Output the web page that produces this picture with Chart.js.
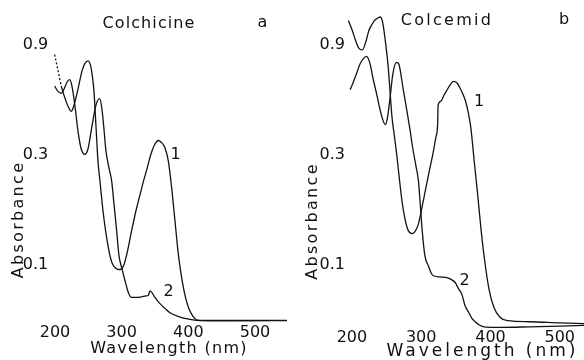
<!DOCTYPE html>
<html>
<head>
<meta charset="utf-8">
<script src="https://cdn.jsdelivr.net/npm/chart.js@4.4.1/dist/chart.umd.min.js"></script>
<style>
  html, body { margin: 0; padding: 0; background: #fff; }
  #wrap { position: relative; width: 584px; height: 360px; }
  .panel { position: absolute; top: 0; width: 292px; height: 360px; }
</style>
</head>
<body>
<div id="wrap">
  <div class="panel" style="left:0"><canvas id="chartA" width="292" height="360"></canvas></div>
  <div class="panel" style="left:292px"><canvas id="chartB" width="292" height="360"></canvas></div>
</div>
<script>
// tick values shared by both panels
const xTicks = [200, 300, 400, 500];
const yTicks = [0.1, 0.3, 0.9];

// panel a - colchicine, curve 1 (before irradiation)
const colchWl1 = [199.5, 204.5, 209.5, 216.5, 221, 224.5, 228.5, 234.5, 240.5, 245, 249.5, 254, 258.5, 261.5, 264.5, 267.5, 272.5, 280, 285.5, 291.5, 297.5, 302.5, 308, 315, 321.5, 327.5, 332.5, 338, 344, 350, 355, 359, 365, 370, 375, 380, 385, 392.5, 400, 410, 417.5, 450, 492.5, 548];
const colchAbs1 = [0.819, 0.700, 0.597, 0.514, 0.479, 0.464, 0.493, 0.580, 0.694, 0.750, 0.769, 0.721, 0.567, 0.401, 0.282, 0.231, 0.167, 0.119, 0.102, 0.0963, 0.0953, 0.0982, 0.1118, 0.1406, 0.1716, 0.201, 0.2291, 0.2609, 0.3030, 0.3346, 0.3467, 0.3415, 0.3225, 0.2825, 0.2164, 0.1553, 0.1114, 0.0799, 0.0655, 0.0583, 0.0573, 0.0573, 0.0572, 0.0573];
// panel a - curve 2
const colchWl2 = [199.5, 204.5, 209.5, 213.5, 218, 222, 225.5, 230, 234.5, 239, 244.5, 249.5, 255.5, 261.5, 267, 270.5, 273.5, 276.5, 281, 285, 288.5, 292.5, 296, 300, 305, 310, 315, 321.5, 330, 336.5, 340, 342.5, 350, 357.5, 365, 372.5, 387.5, 402.5, 417.5, 450, 492.5, 548];
const colchAbs2 = [0.597, 0.567, 0.556, 0.579, 0.621, 0.637, 0.597, 0.489, 0.381, 0.3216, 0.3015, 0.3184, 0.4005, 0.4937, 0.5267, 0.474, 0.3886, 0.312, 0.2634, 0.2314, 0.1840, 0.1406, 0.1096, 0.0973, 0.0854, 0.0758, 0.0721, 0.0721, 0.0725, 0.0732, 0.0735, 0.0769, 0.0721, 0.0677, 0.0646, 0.0618, 0.0592, 0.0579, 0.0571, 0.0570, 0.0571, 0.0571];

// panel b - colcemid, curve 1
const colceWl1 = [194.9, 200, 205.8, 210.1, 215.2, 220.2, 224.5, 228.9, 233.2, 237.5, 241.1, 244.7, 248.3, 251.9, 254.8, 257.7, 261.3, 264.9, 268.5, 272.2, 276.5, 280.8, 286.6, 290.9, 295.7, 299.6, 303.9, 308.2, 312.6, 316.9, 321.2, 323.8, 324.4, 328.4, 332.8, 337.1, 341.4, 346.5, 351.5, 355.8, 360.2, 364.5, 368.1, 371.7, 376.5, 381.4, 386.1, 391.2, 397.7, 404.9, 413.6, 425.1, 456.9, 500.1, 535];
const colceAbs1 = [1.152, 1.053, 0.934, 0.871, 0.858, 0.934, 1.043, 1.107, 1.158, 1.181, 1.193, 1.118, 0.934, 0.750, 0.579, 0.4423, 0.3625, 0.297, 0.2361, 0.1897, 0.1585, 0.142, 0.1365, 0.1392, 0.1493, 0.1682, 0.1954, 0.2269, 0.2634, 0.3030, 0.3588, 0.4125, 0.4937, 0.5139, 0.5451, 0.5731, 0.6026, 0.6271, 0.6180, 0.5877, 0.5510, 0.5085, 0.4558, 0.3925, 0.2825, 0.2033, 0.1449, 0.1064, 0.0788, 0.0653, 0.0591, 0.0571, 0.0565, 0.0559, 0.0555];
// panel b - curve 2
const colceWl2 = [197.5, 201.4, 206.8, 211.5, 216.3, 221.2, 226, 230.7, 235.4, 240.4, 244.7, 248.1, 251.2, 254.8, 259.2, 264.5, 267.8, 274, 279.4, 283.7, 288, 292.4, 296, 298.8, 301.7, 305.3, 310.7, 314.7, 318.3, 327, 335.6, 342.9, 349.1, 353.7, 358.7, 363.1, 368.4, 373.2, 378, 383.3, 390.5, 413.6, 456.9, 500, 535];
const colceAbs2 = [0.576, 0.615, 0.679, 0.743, 0.785, 0.805, 0.750, 0.640, 0.5564, 0.4745, 0.4251, 0.4064, 0.4337, 0.5240, 0.679, 0.7578, 0.7429, 0.5790, 0.4651, 0.3886, 0.3184, 0.2688, 0.2314, 0.1804, 0.1378, 0.1096, 0.0982, 0.0916, 0.0893, 0.0885, 0.0880, 0.0863, 0.0837, 0.0788, 0.0743, 0.0666, 0.0621, 0.0585, 0.0565, 0.0548, 0.0537, 0.0534, 0.0537, 0.0541, 0.0545];

Chart.defaults.font.family = '"DejaVu Sans", sans-serif';
Chart.defaults.font.size = 16;
Chart.defaults.color = '#111';

function pts(xs, ys) {
  return xs.map((x, i) => ({ x: x, y: ys[i] }));
}

// draws titles, axis names and curve numbers
function textPlugin(items) {
  return {
    id: 'panelText',
    afterDraw(chart) {
      const ctx = chart.ctx;
      items.forEach(t => {
        ctx.save();
        ctx.font = (t.size || 16) + 'px "DejaVu Sans"';
        ctx.letterSpacing = (t.ls == null ? 1 : t.ls) + 'px';
        ctx.fillStyle = '#111';
        ctx.textAlign = 'center';
        ctx.textBaseline = 'middle';
        ctx.translate(t.x, t.y);
        if (t.rot) ctx.rotate(t.rot);
        ctx.fillText(t.text, 0, 0);
        ctx.restore();
      });
    }
  };
}

function makeChart(id, sets, cfg) {
  return new Chart(document.getElementById(id), {
    type: 'line',
    data: {
      datasets: sets.map(s => ({
        data: pts(s.x, s.y),
        borderColor: '#121212',
        borderWidth: 1.3,
        pointRadius: 0,
        clip: false,
        cubicInterpolationMode: 'monotone',
        segment: s.dash ? { borderDash: c => c.p1DataIndex <= s.dash ? [2, 2] : undefined } : undefined
      }))
    },
    options: {
      responsive: false,
      animation: false,
      devicePixelRatio: 1,
      layout: { autoPadding: false, padding: { left: 0, right: cfg.padR, top: 8, bottom: 0 } },
      plugins: { legend: { display: false }, tooltip: { enabled: false } },
      scales: {
        x: {
          type: 'linear', bounds: 'data', min: cfg.xMin, max: cfg.xMax,
          grid: { display: false, drawTicks: false }, border: { display: false },
          afterBuildTicks: s => { s.ticks = xTicks.map(v => ({ value: v })); },
          afterFit: s => { s.height = 38; },
          ticks: { padding: cfg.xPad, maxRotation: 0, autoSkip: false, callback: v => String(v) }
        },
        y: {
          type: 'logarithmic', bounds: 'data', min: 0.05636, max: 1.285,
          grid: { display: false, drawTicks: false }, border: { display: false },
          afterBuildTicks: s => { s.ticks = yTicks.map(v => ({ value: v })); },
          afterFit: s => { s.width = cfg.yW; },
          ticks: { padding: cfg.yPad, autoSkip: false, callback: v => String(v) }
        }
      }
    },
    plugins: [textPlugin(cfg.text)]
  });
}

makeChart('chartA', [
  { x: colchWl1, y: colchAbs1, dash: 2 },
  { x: colchWl2, y: colchAbs2 }
], {
  xMin: 190, xMax: 550, yW: 48.3, padR: 3.7, xPad: 1.4, yPad: 0,
  text: [
    { text: 'Colchicine', x: 149, y: 24, ls: 1.1 },
    { text: 'a', x: 263, y: 23 },
    { text: 'Absorbance', x: 18.5, y: 219.5, rot: -Math.PI / 2, ls: 2.3 },
    { text: 'Wavelength (nm)', x: 169, y: 349, ls: 1.3 },
    { text: '1', x: 176, y: 155 },
    { text: '2', x: 169, y: 292 }
  ]
});

makeChart('chartB', [
  { x: colceWl1, y: colceAbs1 },
  { x: colceWl2, y: colceAbs2 }
], {
  xMin: 190, xMax: 535, yW: 53, padR: 0, xPad: 5.9, yPad: 0,
  text: [
    { text: 'Colcemid', x: 155, y: 21, ls: 2.3 },
    { text: 'b', x: 272.5, y: 20 },
    { text: 'Absorbance', x: 21, y: 221, rot: -Math.PI / 2, ls: 2.3 },
    { text: 'Wavelength (nm)', x: 190.5, y: 352, size: 17, ls: 3 },
    { text: '1', x: 187.5, y: 102 },
    { text: '2', x: 173, y: 281 }
  ]
});
</script>
</body>
</html>
